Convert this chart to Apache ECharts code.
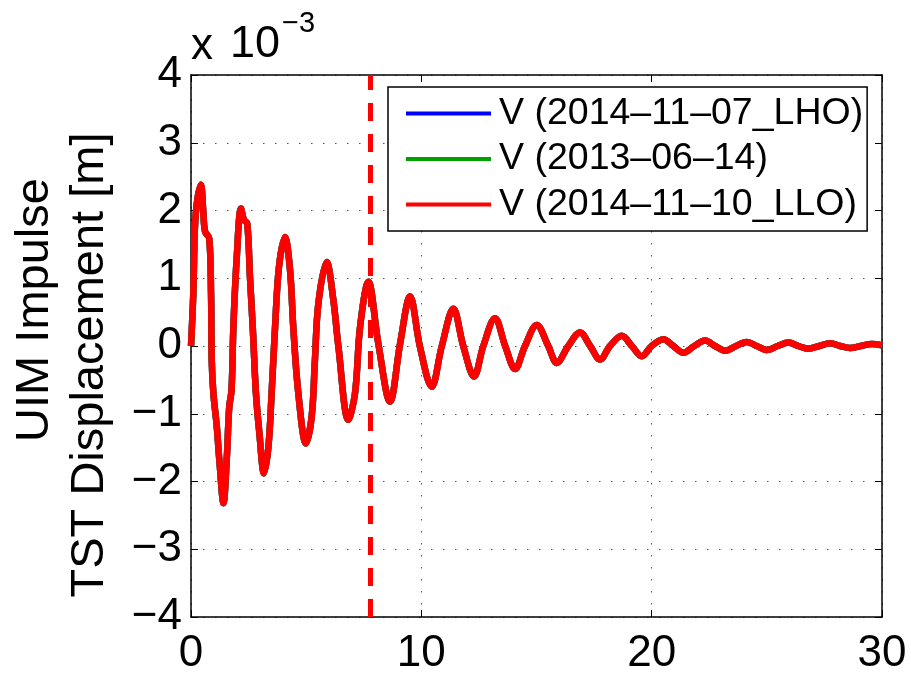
<!DOCTYPE html>
<html>
<head>
<meta charset="utf-8">
<script src="https://cdn.jsdelivr.net/npm/echarts@6/dist/echarts.min.js"></script>
<style>
html,body{margin:0;padding:0;background:#fff;}
#c{width:911px;height:676px;}
</style>
</head>
<body>
<div id="c"></div>
<script>
// Time [s]
var timeS = [0, 0.1, 0.17, 0.27, 0.43, 0.53, 0.61, 0.79, 0.87, 0.9, 0.97, 1.12, 1.23, 1.41, 1.55, 1.66, 1.76, 1.84, 1.98, 2.17, 2.3, 2.44, 2.56, 2.68, 2.82, 2.97, 3.17, 3.36, 3.5, 3.65, 3.82, 4.08, 4.3, 4.44, 4.66, 4.99, 5.24, 5.38, 5.53, 5.89, 6.18, 6.4, 6.83, 7.12, 7.34, 7.7, 8.13, 8.64, 9.08, 9.51, 9.94, 10.45, 10.89, 11.39, 11.82, 12.29, 12.69, 13.2, 13.64, 14.07, 14.5, 15.01, 15.51, 15.88, 16.38, 16.89, 17.33, 17.76, 18.19, 18.7, 19.14, 19.57, 20.0, 20.51, 20.94, 21.38, 21.85, 22.32, 22.75, 23.19, 23.66, 24.13, 24.56, 25.0, 25.47, 25.94, 26.37, 26.8, 27.27, 27.75, 28.18, 28.61, 29.08, 29.56, 30];
// TST displacement, units of 1e-3 m (LLO trace, drawn on top)
var dispLLO = [0, 0.78, 1.75, 2.15, 2.38, 2.0, 1.69, 1.59, 0.78, -0.21, -0.69, -1.19, -1.68, -2.32, -1.68, -0.9, -0.65, 0.28, 1.27, 2.03, 1.86, 1.81, 1.02, 0.28, -0.7, -1.29, -1.88, -1.49, -0.7, 0.28, 1.17, 1.61, 1.12, 0.28, -0.7, -1.44, -1.04, -0.21, 0.63, 1.24, 0.68, -0.01, -1.09, -0.7, 0.28, 0.95, 0.04, -0.82, 0.04, 0.73, -0.01, -0.6, 0, 0.55, 0, -0.45, 0, 0.41, 0, -0.34, 0, 0.31, 0, -0.25, 0, 0.2, 0, -0.2, 0, 0.15, 0, -0.15, 0, 0.1, 0, -0.1, 0, 0.08, 0, -0.07, 0, 0.06, 0, -0.06, 0, 0.05, 0, -0.04, 0, 0.04, 0, -0.03, 0, 0.03, 0.01];
// LHO and 2013 traces lie exactly under the LLO trace in the picture
var dispLHO = dispLLO.slice();
var disp2013 = dispLLO.slice();
var seriesNames = ['V (2014\u201311\u201307_LHO)', 'V (2013\u201306\u201314)', 'V (2014\u201311\u201310_LLO)'];
var markerTimes = [7.77];
var xTicks = [0, 10, 20, 30];
var yTicks = [-4, -3, -2, -1, 0, 1, 2, 3, 4];

var FONT = '"Liberation Sans", Arial, Helvetica, sans-serif';
function pairs(t, v) { return t.map(function (x, i) { return [x, v[i]]; }); }

var chart = echarts.init(document.getElementById('c'), null, {renderer: 'canvas'});
var gridLine = {show: true, lineStyle: {color: '#555', width: 1, type: [1.5, 10.5]}};
var tickIn = {show: true, inside: true, length: 7, lineStyle: {color: '#000', width: 1}};
var axLine = {show: true, onZero: false, lineStyle: {color: '#000', width: 1.5}};

var lineSeries = function (name, color, data, extra) {
  var s = {
    name: name, type: 'line', data: data, showSymbol: false, symbol: 'none',
    smooth: 0.35, color: color,
    lineStyle: {color: color, width: 6.5}, emphasis: {disabled: true}, silent: true, z: 3
  };
  if (extra) for (var k in extra) s[k] = extra[k];
  return s;
};

chart.setOption({
  animation: false,
  backgroundColor: '#fff',
  grid: {left: 191, right: 29, top: 75, bottom: 59, containLabel: false},
  xAxis: [{
    type: 'value', min: 0, max: 30, interval: 10, position: 'bottom',
    axisLine: axLine, axisTick: tickIn, splitLine: gridLine,
    axisLabel: {fontFamily: FONT, fontSize: 44, lineHeight: 44, color: '#000', margin: 15,
      formatter: function (v) { return xTicks.indexOf(v) >= 0 ? String(v) : ''; }}
  }, {
    type: 'value', min: 0, max: 30, interval: 10, position: 'top',
    axisLine: axLine, axisTick: tickIn, splitLine: {show: false}, axisLabel: {show: false}
  }],
  yAxis: [{
    type: 'value', min: -4, max: 4, interval: 1, position: 'left',
    axisLine: axLine, axisTick: tickIn, splitLine: gridLine,
    axisLabel: {fontFamily: FONT, fontSize: 44, color: '#000', margin: 9,
      formatter: function (v) { return yTicks.indexOf(v) >= 0 ? String(v).replace('-', '\u2212') : ''; }}
  }, {
    type: 'value', min: -4, max: 4, interval: 1, position: 'right',
    axisLine: axLine, axisTick: tickIn, splitLine: {show: false}, axisLabel: {show: false}
  }],
  legend: {
    orient: 'vertical', left: 388, top: 87,
    padding: [6, 4, 6, 18],
    itemWidth: 85, itemHeight: 4, icon: 'rect', itemGap: 4.5,
    borderColor: '#000', borderWidth: 1.5, backgroundColor: '#fff',
    selectedMode: false,
    textStyle: {fontFamily: FONT, fontSize: 37.5, lineHeight: 41, color: '#000', padding: [0, 0, 0, 3]},
    data: seriesNames
  },
  graphic: [
    {type: 'text', x: 191, y: 47, silent: true,
     style: {text: 'x', font: '44px ' + FONT, fill: '#000', textAlign: 'left', textVerticalAlign: 'middle'}},
    {type: 'text', x: 230, y: 45, silent: true,
     style: {text: '10', font: '45px ' + FONT, fill: '#000', textAlign: 'left', textVerticalAlign: 'middle'}},
    {type: 'text', x: 282, y: 24, silent: true,
     style: {text: '\u22123', font: '29px ' + FONT, fill: '#000', textAlign: 'left', textVerticalAlign: 'middle'}},
    {type: 'text', x: 35, y: 310, rotation: Math.PI / 2, silent: true,
     style: {text: 'UIM Impulse', font: '47px ' + FONT, fill: '#000', textAlign: 'center', textVerticalAlign: 'middle'}},
    {type: 'text', x: 90, y: 365, rotation: Math.PI / 2, silent: true,
     style: {text: 'TST Displacement [m]', font: '47px ' + FONT, fill: '#000', textAlign: 'center', textVerticalAlign: 'middle'}}
  ],
  series: [
    lineSeries(seriesNames[0], '#0000ff', pairs(timeS, dispLHO)),
    lineSeries(seriesNames[1], '#00a000', pairs(timeS, disp2013)),
    lineSeries(seriesNames[2], '#ff0000', pairs(timeS, dispLLO), {
      markLine: {
        silent: true, symbol: ['none', 'none'], animation: false,
        label: {show: false},
        lineStyle: {color: '#ff0000', width: 5, type: [18, 13]},
        emphasis: {disabled: true},
        data: markerTimes.map(function (t) { return {xAxis: t}; })
      }
    })
  ]
});
</script>
</body>
</html>
